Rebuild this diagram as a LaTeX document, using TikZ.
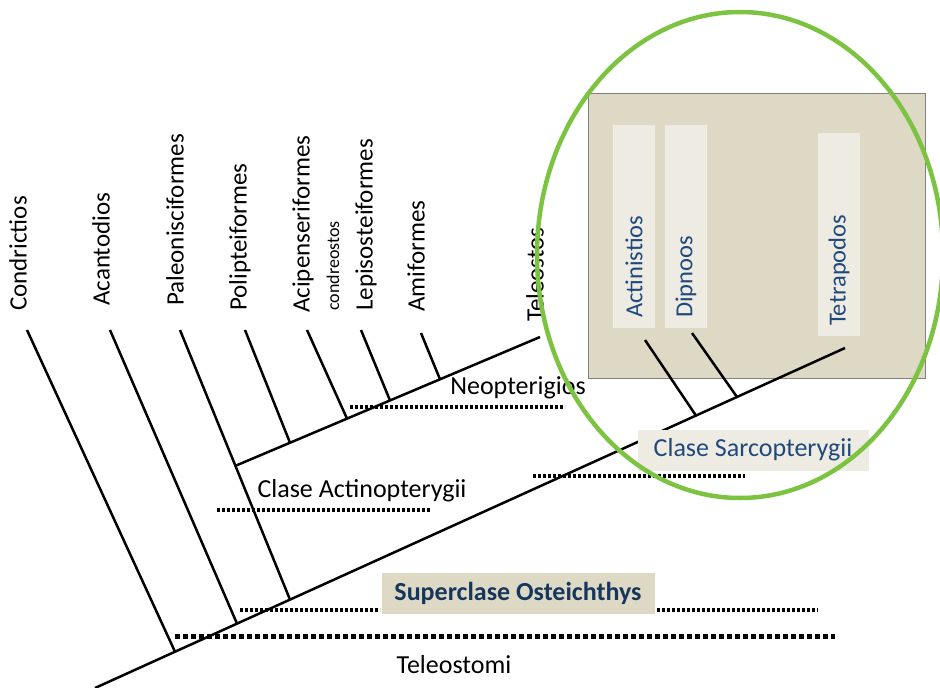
\documentclass[tikz,border=0pt]{standalone}
\usepackage{fontspec}
\setmainfont{Carlito}
\usepackage{xcolor}
\definecolor{SarcGreen}{RGB}{125,195,66}
\definecolor{SarcBlue}{RGB}{31,73,125}
\definecolor{DeepBlue}{RGB}{23,54,93}
\definecolor{Sand}{RGB}{221,217,197}
\definecolor{PaleSand}{RGB}{238,236,226}

\begin{document}
\begin{tikzpicture}[x=1pt,y=-1pt,
taxon/.style={rotate=90,anchor=west,inner sep=0pt,font=\fontsize{25}{29}\selectfont},
sarcbar/.style={rotate=90,anchor=west,fill=PaleSand,text=SarcBlue,text width=183pt,inner xsep=10pt,inner ysep=0pt,minimum height=42pt,align=left,font=\fontsize{24.5}{28}\selectfont},
tag/.style={inner sep=0pt,font=\fontsize{26}{30}\selectfont},
tagbox/.style={inner sep=0pt,minimum height=41pt,font=\fontsize{26}{30}\selectfont},
branch/.style={line width=2.5pt},
dots/.style={line width=3.5pt,dash pattern=on 3pt off 2pt},
bigdots/.style={line width=5pt,dash pattern=on 5pt off 3pt}]
\useasboundingbox (0,0) rectangle (940,688);
\node[draw=black!50,fill=Sand,minimum width=337pt,minimum height=285pt,inner sep=0pt,anchor=north west] (sarcbox) at (588,93) {};
\node[sarcbar] (actinistios) at (634,328) {Actinistios};
\node[sarcbar] (dipnoos) at (686,328) {Dipnoos};
\node[sarcbar] (tetrapodos) at (839,336) {Tetrapodos};
\coordinate (root) at (95,688);
\coordinate (tetra) at (845,348);
\coordinate (actin0) at (235,466);
\coordinate (teleo) at (540,337);
\coordinate (tcond) at (27,330);    \coordinate (jcond) at (175,651.7);
\coordinate (tacan) at (110,330);   \coordinate (jacan) at (237,623.6);
\coordinate (tpale) at (180,330);   \coordinate (jpale) at (290,599.6);
\coordinate (tpoli) at (245,330);   \coordinate (jpoli) at (290,442.7);
\coordinate (tacip) at (307,330);   \coordinate (jacip) at (347,418.6);
\coordinate (tlepi) at (361,330);   \coordinate (jlepi) at (390,400.4);
\coordinate (tamif) at (421,333);   \coordinate (jamif) at (440,379.3);
\coordinate (tacti) at (645,340);   \coordinate (jacti) at (696,415.6);
\coordinate (tdipn) at (692,333);   \coordinate (jdipn) at (737,397.0);
\draw[branch] (root) -- (tetra); \draw[branch] (actin0) -- (teleo);
\draw[branch] (tcond) -- (jcond); \draw[branch] (tacan) -- (jacan); \draw[branch] (tpale) -- (jpale);
\draw[branch] (tpoli) -- (jpoli); \draw[branch] (tacip) -- (jacip); \draw[branch] (tlepi) -- (jlepi);
\draw[branch] (tamif) -- (jamif); \draw[branch] (tacti) -- (jacti); \draw[branch] (tdipn) -- (jdipn);
\node[tagbox,fill=PaleSand,text=SarcBlue,minimum width=231pt] (sarco) at (753,450) {Clase Sarcopterygii};
\node[tagbox,fill=Sand,text=DeepBlue,minimum width=273pt,font=\fontsize{26}{30}\selectfont\bfseries] (super) at (518,593) {Superclase Osteichthys};
\node[tag] (neop) at (518,388) {Neopterigios};
\node[tag] (actino) at (362,491) {Clase Actinopterygii};
\node[tag] (teleostomi) at (454,665) {Teleostomi};
\draw[dots] (350,407) -- (565,407);
\draw[dots] (217,510) -- (430,510);
\draw[dots] (533,476) -- (745,476);
\draw[dots] (240,610) -- (380,610); \draw[dots] (657,610) -- (818,610);
\draw[bigdots] (175,636) -- (835,636);
\node[taxon] (condrictios) at (18,311) {Condrictios};
\node[taxon] (acantodios) at (101,306) {Acantodios};
\node[taxon] (paleonisci) at (175,306) {Paleonisciformes};
\node[taxon] (polipteif) at (240,311) {Polipteiformes};
\node[taxon] (acipenserif) at (303,313) {Acipenseriformes};
\node[taxon,font=\fontsize{18}{20}\selectfont] (condreostos) at (333,311) {condreostos};
\node[taxon] (lepisosteif) at (366,311) {Lepisosteiformes};
\node[taxon] (amiformes) at (416,312) {Amiformes};
\node[taxon] (teleostos) at (535,322) {Teleostos};
\draw[SarcGreen,line width=4.5pt] (740,255) ellipse [x radius=203, y radius=243];
\end{tikzpicture}
\end{document}
